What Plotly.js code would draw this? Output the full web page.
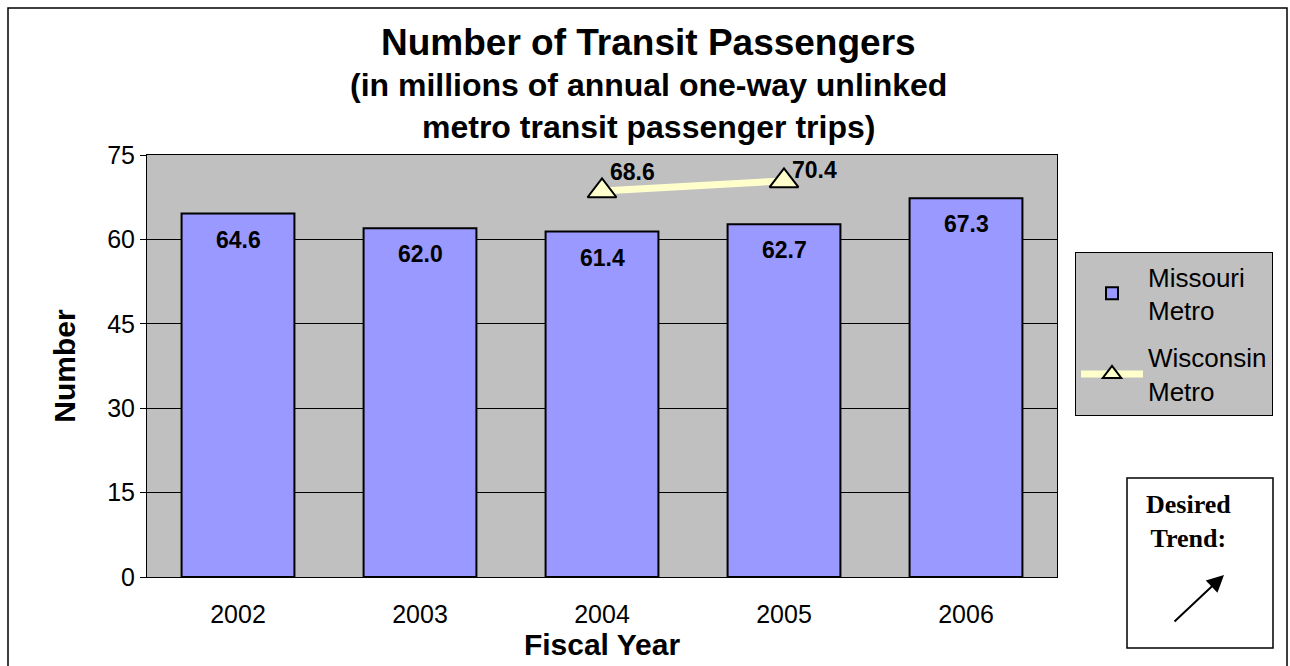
<!DOCTYPE html>
<html>
<head>
<meta charset="utf-8">
<script src="https://cdn.plot.ly/plotly-3.0.1.min.js"></script>
<style>html,body{margin:0;padding:0;background:#fff;}#chart{width:1290px;height:666px;}</style>
</head>
<body>
<div id="chart"></div>
<script>
// ---- data ----
const years = [2002, 2003, 2004, 2005, 2006];
const missouriMetro = [64.6, 62.0, 61.4, 62.7, 67.3];
const wisconsinYears = [2004, 2005];
const wisconsinMetro = [68.6, 70.4];
const yTicks = [0, 15, 30, 45, 60, 75];

// ---- styling / layout helpers ----
const FONT = 'Arial, "Liberation Sans", sans-serif';
const SERIF = '"Times New Roman", "Liberation Serif", serif';
const W = 1290, H = 666;
const ML = 147, MR = 233, MT = 155, MB = 89;
const pw = W - ML - MR, ph = H - MT - MB;
const toPx = x => (x - ML) / pw;
const toPy = y => (H - MB - y) / ph;
const wiscLabelShift = [19, 11];

const traces = [
  {
    type: 'bar', x: years, y: missouriMetro, name: 'Missouri<br>Metro',
    width: 0.62, legendgroup: 'a',
    marker: {color: '#9999FF', line: {color: '#000', width: 2}},
    hoverinfo: 'skip'
  },
  {
    type: 'scatter', mode: 'lines+markers', x: wisconsinYears, y: wisconsinMetro,
    name: 'Wisconsin<br>Metro', legendgroup: 'b',
    line: {color: '#FFFFCC', width: 7},
    marker: {symbol: 'triangle-up', size: 25, color: '#FFFFCC', line: {color: '#000', width: 2}},
    hoverinfo: 'skip'
  }
];

const annotations = [];
missouriMetro.forEach((v, i) => annotations.push({
  x: years[i], y: v, xref: 'x', yref: 'y', text: '<b>' + v.toFixed(1) + '</b>',
  showarrow: false, xanchor: 'center', yanchor: 'top', yshift: -11,
  font: {family: FONT, size: 23, color: '#000'}
}));
wisconsinMetro.forEach((v, i) => annotations.push({
  x: wisconsinYears[i], y: v, xref: 'x', yref: 'y', text: '<b>' + v.toFixed(1) + '</b>',
  showarrow: false, xanchor: 'left', yanchor: 'middle', xshift: 6, yshift: wiscLabelShift[i],
  font: {family: FONT, size: 23, color: '#000'}
}));
// titles
annotations.push({xref: 'paper', yref: 'paper', x: toPx(648), y: toPy(43), xanchor: 'center', yanchor: 'middle', text: '<b>Number of Transit Passengers</b>',
  showarrow: false, font: {family: FONT, size: 37, color: '#000'}});
annotations.push({xref: 'paper', yref: 'paper', x: toPx(648), y: toPy(85), xanchor: 'center', yanchor: 'middle', text: '<b>(in millions of annual one-way unlinked</b>',
  showarrow: false, font: {family: FONT, size: 32, color: '#000'}});
annotations.push({xref: 'paper', yref: 'paper', x: toPx(648), y: toPy(127), xanchor: 'center', yanchor: 'middle', text: '<b>metro transit passenger trips)</b>',
  showarrow: false, font: {family: FONT, size: 32, color: '#000'}});
// desired trend
annotations.push({xref: 'paper', yref: 'paper', x: toPx(1188), y: toPy(521), xanchor: 'center', yanchor: 'middle', text: '<b>Desired<br>Trend:</b>',
  showarrow: false, align: 'center', font: {family: SERIF, size: 26, color: '#000'}});
annotations.push({xref: 'paper', yref: 'paper', x: toPx(1224), y: toPy(575), ax: -51, ay: 48,
  text: '', showarrow: true, arrowhead: 2, arrowsize: 1.7, arrowwidth: 2, arrowcolor: '#000'});

const layout = {
  width: W, height: H,
  margin: {l: ML, r: MR, t: MT, b: MB, autoexpand: false},
  paper_bgcolor: '#fff', plot_bgcolor: '#C0C0C0',
  font: {family: FONT, color: '#000'},
  showlegend: true,
  legend: {
    x: toPx(1075), y: toPy(252), xanchor: 'left', yanchor: 'top',
    bgcolor: '#C0C0C0', bordercolor: '#000', borderwidth: 1,
    font: {family: FONT, size: 26, color: '#000'},
    traceorder: 'grouped', tracegroupgap: 10, itemwidth: 62
  },
  xaxis: {
    range: [2001.5, 2006.5], tickvals: years, ticktext: years.map(String),
    showgrid: false, zeroline: false,
    showline: true, mirror: true, linecolor: '#000', linewidth: 1,
    ticks: '', ticklabelstandoff: 15, tickfont: {family: FONT, size: 25}, fixedrange: true,
    title: {text: '<b>Fiscal Year</b>', font: {family: FONT, size: 30}, standoff: 3}
  },
  yaxis: {
    range: [0, 75], tickvals: yTicks, ticktext: yTicks.map(String),
    showgrid: true, gridcolor: '#000', gridwidth: 1, zeroline: false,
    showline: true, mirror: true, linecolor: '#000', linewidth: 1,
    ticks: 'outside', ticklen: 6, tickcolor: '#000',
    tickfont: {family: FONT, size: 25}, fixedrange: true,
    title: {text: '<b>Number</b>', font: {family: FONT, size: 30}, standoff: 22}
  },
  shapes: [
    {type: 'rect', xref: 'paper', yref: 'paper', x0: toPx(8), x1: toPx(1287), y0: toPy(672), y1: toPy(8),
      line: {color: '#000', width: 1.5}, fillcolor: 'rgba(0,0,0,0)', layer: 'below'},
    {type: 'rect', xref: 'paper', yref: 'paper', x0: toPx(1127), x1: toPx(1273), y0: toPy(648), y1: toPy(478),
      line: {color: '#000', width: 1.5}, fillcolor: '#fff', layer: 'below'}
  ],
  annotations: annotations
};

Plotly.newPlot('chart', traces, layout, {displayModeBar: false, staticPlot: true});
</script>
</body>
</html>
